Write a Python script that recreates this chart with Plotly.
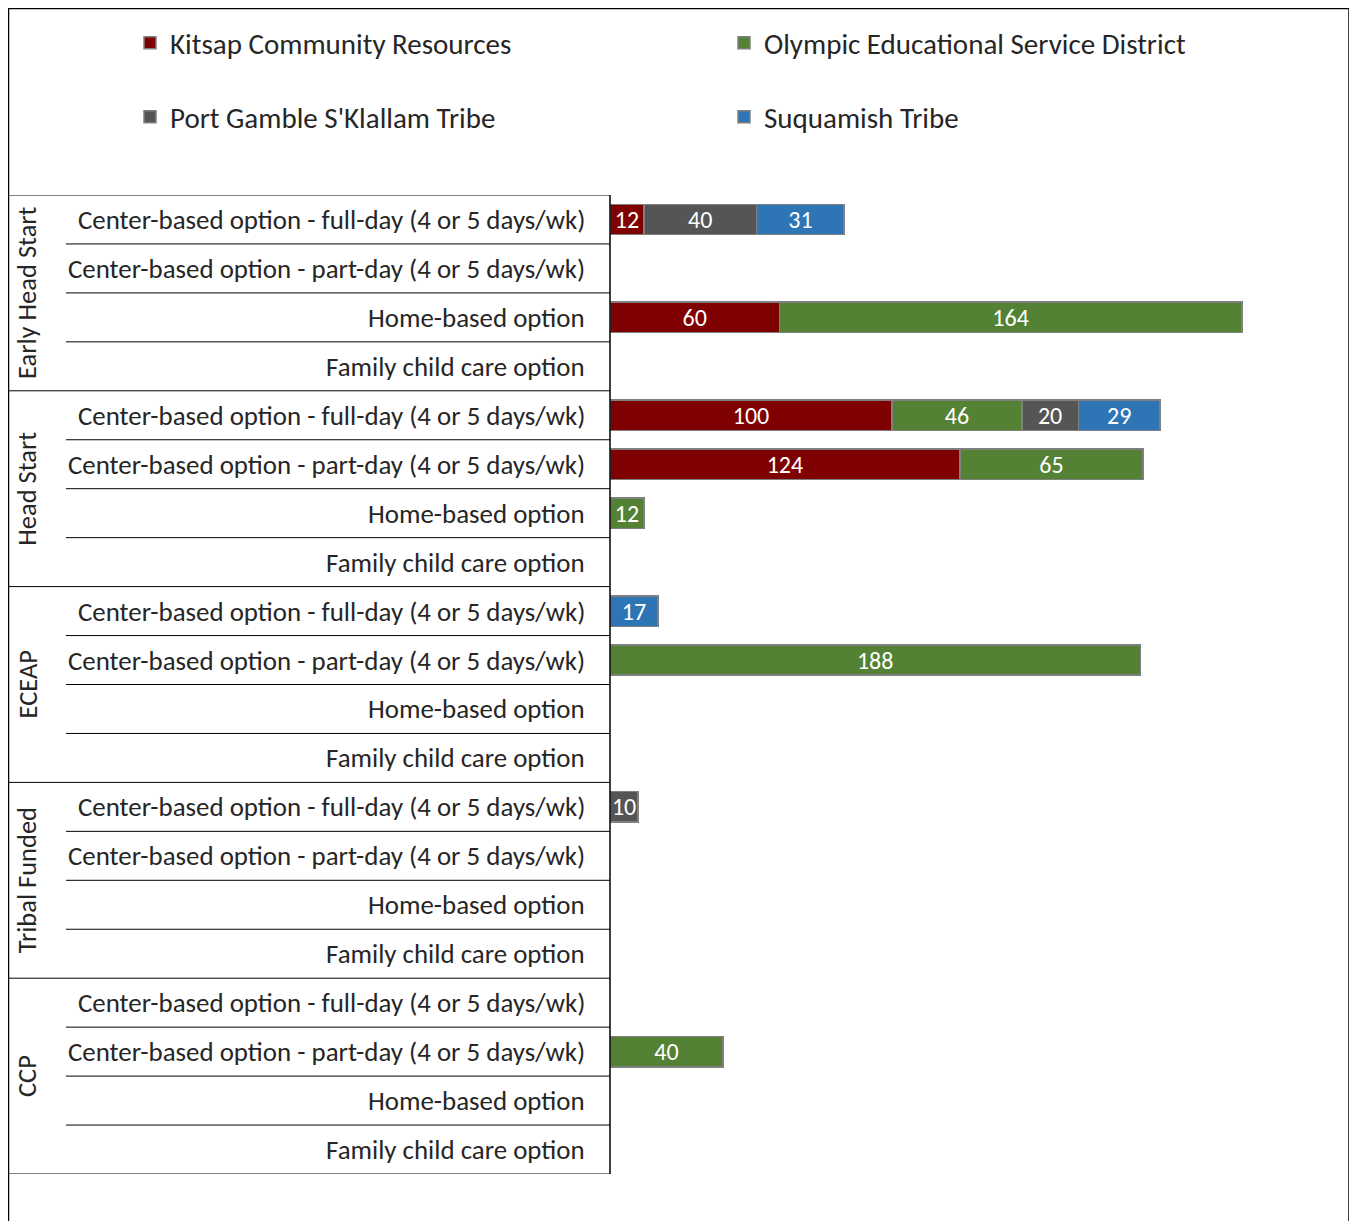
import plotly.graph_objects as go

programs = ["Early Head Start", "Head Start", "ECEAP", "Tribal Funded", "CCP"]
options = [
    "Center-based option - full-day (4 or 5 days/wk)",
    "Center-based option - part-day (4 or 5 days/wk)",
    "Home-based option",
    "Family child care option",
]

series_names = ["Kitsap Community Resources", "Olympic Educational Service District",
                "Port Gamble S'Klallam Tribe", "Suquamish Tribe"]
series_colors = ["#7F0000", "#548235", "#555555", "#2E75B6"]

# values by row: program x option (20 rows, top to bottom)
kitsap = [12, None, 60, None,
          100, 124, None, None,
          None, None, None, None,
          None, None, None, None,
          None, None, None, None]
olympic = [None, None, 164, None,
           46, 65, 12, None,
           None, 188, None, None,
           None, None, None, None,
           None, 40, None, None]
port_gamble = [40, None, None, None,
               20, None, None, None,
               None, None, None, None,
               10, None, None, None,
               None, None, None, None]
suquamish = [31, None, None, None,
             29, None, None, None,
             17, None, None, None,
             None, None, None, None,
             None, None, None, None]
series_values = [kitsap, olympic, port_gamble, suquamish]

# page is drawn with an 8px body offset
OFF = 8
W, H = 1357 - OFF, 1229 - 2 * OFF
ML, MR, MT, MB = 0, 0, 0, 0
PW = W - ML - MR
PH = H - MT - MB

def px_x(x):  # page pixel -> paper fraction
    return (x - OFF - ML) / PW

def px_y(y):
    return (H - MB - (y - OFF)) / PH

FONT = "Calibri, Carlito, Lato, sans-serif"
n_rows = len(programs) * len(options)
rows = list(range(n_rows))

fig = go.Figure()
for idx, (name, color, vals) in enumerate(zip(series_names, series_colors, series_values)):
    fig.add_trace(go.Bar(
        y=rows, x=vals, name=name, orientation="h",
        marker=dict(color=color, line=dict(color="#808080", width=1.5)),
        text=[("" if v is None else str(v)) for v in vals],
        textposition="inside", insidetextanchor="middle", textangle=0,
        textfont=dict(color="white", size=24, family=FONT),
        legend="legend" if idx in (0, 1) else "legend2",
        hoverinfo="x+name",
    ))

LABEL_COLOR = "#262626"
annotations = []
shapes = []
for g, prog in enumerate(programs):
    annotations.append(dict(
        text=prog, x=px_x(27), y=g * len(options) + (len(options) - 1) / 2,
        xref="paper", yref="y", showarrow=False, textangle=-90,
        font=dict(size=26.5, color=LABEL_COLOR, family=FONT), xanchor="center", yanchor="middle"))
    for k, opt in enumerate(options):
        r = g * len(options) + k
        annotations.append(dict(
            text=opt, x=px_x(587), y=r, xref="paper", yref="y", showarrow=False,
            xanchor="right", yanchor="middle",
            font=dict(size=26.9, color=LABEL_COLOR, family=FONT)))
        if k > 0:
            shapes.append(dict(type="line", xref="paper", yref="y",
                               x0=px_x(66), x1=px_x(610), y0=r - 0.5, y1=r - 0.5,
                               line=dict(color="#000000", width=1)))
    shapes.append(dict(type="line", xref="paper", yref="y",
                       x0=px_x(8), x1=px_x(610), y0=g * len(options) - 0.5, y1=g * len(options) - 0.5,
                       line=dict(color="#000000", width=1)))
shapes.append(dict(type="line", xref="paper", yref="y",
                   x0=px_x(8), x1=px_x(610), y0=n_rows - 0.5, y1=n_rows - 0.5,
                   line=dict(color="#000000", width=1)))
shapes.append(dict(type="line", xref="paper", yref="y",
                   x0=px_x(610), x1=px_x(610), y0=-0.5, y1=n_rows - 0.5,
                   line=dict(color="#000000", width=1.5)))
# chart frame
shapes.append(dict(type="rect", xref="paper", yref="paper",
                   x0=px_x(8.5), x1=px_x(1349), y0=-0.05, y1=px_y(8.5),
                   line=dict(color="#000000", width=1.5), fillcolor="rgba(0,0,0,0)", layer="below"))

legend_common = dict(orientation="h", xanchor="left", yanchor="middle", traceorder="normal",
                     font=dict(size=29, color=LABEL_COLOR, family=FONT),
                     entrywidth=549, entrywidthmode="pixels",
                     bgcolor="rgba(0,0,0,0)", itemclick=False, itemdoubleclick=False)

fig.update_layout(
    width=W, height=H,
    margin=dict(l=ML, r=MR, t=MT, b=MB),
    paper_bgcolor="white", plot_bgcolor="white",
    barmode="stack", bargap=0.38,
    font=dict(family=FONT),
    xaxis=dict(domain=[px_x(610), px_x(1287)], range=[0, 240], visible=False, fixedrange=True),
    yaxis=dict(domain=[px_y(1174), px_y(195)], range=[n_rows - 0.5, -0.5],
               visible=False, fixedrange=True),
    legend=dict(x=px_x(130), y=px_y(43), **legend_common),
    legend2=dict(x=px_x(130), y=px_y(117), **legend_common),
    annotations=annotations, shapes=shapes,
    uniformtext=dict(minsize=24, mode="show"),
    showlegend=True,
)

fig.write_html("out.html")
